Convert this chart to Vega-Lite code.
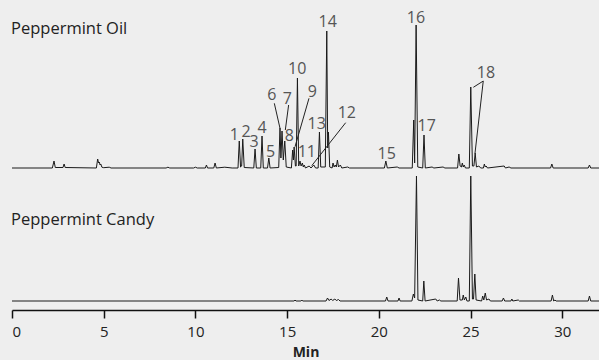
{
  "$schema": "https://vega.github.io/schema/vega-lite/v6.json",
  "width": 587,
  "height": 310,
  "autosize": {"type": "none"},
  "padding": {"left": 12, "right": 0, "top": 0, "bottom": 50},
  "background": "#eeeeee",
  "config": {"view": {"stroke": null}, "font": "Open Sans"},
  "datasets": {
    "oil": [
      {"t":0,"v":0},{"t":2.2,"v":0},{"t":2.29,"v":7},{"t":2.36,"v":0.5},{"t":2.78,"v":0.5},{"t":2.84,"v":4},{"t":2.9,"v":0.5},
      {"t":4.6,"v":0},{"t":4.67,"v":9},{"t":4.72,"v":5},{"t":4.76,"v":6},{"t":4.8,"v":3},{"t":4.84,"v":4},{"t":4.9,"v":0.8},{"t":5.0,"v":0.3},{"t":5.3,"v":0.8},{"t":5.4,"v":0},
      {"t":8.4,"v":0},{"t":8.5,"v":0.8},{"t":8.6,"v":0},{"t":9.9,"v":0},{"t":10.0,"v":0.8},{"t":10.1,"v":0},
      {"t":10.54,"v":0},{"t":10.6,"v":3},{"t":10.66,"v":0},{"t":11.0,"v":0},{"t":11.07,"v":5},{"t":11.14,"v":0},{"t":11.6,"v":0.8},{"t":12.0,"v":0},
      {"t":12.32,"v":0},{"t":12.39,"v":27},{"t":12.46,"v":1},{"t":12.52,"v":2},{"t":12.58,"v":29},{"t":12.66,"v":0.5},
      {"t":13.18,"v":0},{"t":13.25,"v":19},{"t":13.32,"v":0},{"t":13.56,"v":0},{"t":13.63,"v":32},{"t":13.7,"v":0},
      {"t":13.93,"v":0},{"t":14.0,"v":10},{"t":14.07,"v":0},{"t":14.54,"v":0.5},{"t":14.61,"v":40},{"t":14.66,"v":10},{"t":14.72,"v":37},{"t":14.79,"v":8},{"t":14.87,"v":27},{"t":14.95,"v":1},
      {"t":15.23,"v":0},{"t":15.3,"v":18},{"t":15.34,"v":8},{"t":15.38,"v":21},{"t":15.45,"v":2},{"t":15.49,"v":2},{"t":15.56,"v":90},{"t":15.63,"v":2},
      {"t":15.7,"v":7},{"t":15.76,"v":2},{"t":15.83,"v":5},{"t":15.88,"v":1},{"t":15.93,"v":3},{"t":16.0,"v":0},{"t":16.2,"v":2},{"t":16.3,"v":0},{"t":16.45,"v":3},{"t":16.55,"v":0},
      {"t":16.69,"v":0},{"t":16.76,"v":36},{"t":16.83,"v":1},{"t":17.08,"v":1},{"t":17.16,"v":137},{"t":17.21,"v":20},{"t":17.25,"v":36},{"t":17.32,"v":1},
      {"t":17.45,"v":0},{"t":17.5,"v":5},{"t":17.56,"v":1},{"t":17.62,"v":3},{"t":17.68,"v":1},{"t":17.74,"v":8},{"t":17.8,"v":1},{"t":17.9,"v":3},{"t":17.98,"v":0},
      {"t":18.3,"v":1},{"t":18.4,"v":0},{"t":20.3,"v":0},{"t":20.38,"v":7},{"t":20.46,"v":0},{"t":21.0,"v":1},{"t":21.1,"v":0},
      {"t":21.82,"v":0},{"t":21.9,"v":48},{"t":21.95,"v":5},{"t":22.03,"v":143},{"t":22.12,"v":1},{"t":22.39,"v":0},{"t":22.46,"v":33},{"t":22.53,"v":0},
      {"t":22.9,"v":1},{"t":23.0,"v":0},{"t":23.5,"v":1},{"t":23.6,"v":0},
      {"t":24.29,"v":0},{"t":24.36,"v":14},{"t":24.43,"v":2},{"t":24.5,"v":1},{"t":24.55,"v":5},{"t":24.6,"v":1},{"t":24.65,"v":3},{"t":24.72,"v":0},
      {"t":24.93,"v":0},{"t":25.01,"v":81},{"t":25.1,"v":2},{"t":25.18,"v":2},{"t":25.25,"v":15},{"t":25.32,"v":1},{"t":25.45,"v":2},{"t":25.55,"v":0},
      {"t":25.7,"v":0},{"t":25.75,"v":4},{"t":25.8,"v":1},{"t":25.85,"v":2},{"t":25.92,"v":0},{"t":26.83,"v":2},{"t":26.9,"v":0},{"t":27.1,"v":1},{"t":27.2,"v":0},
      {"t":29.36,"v":0},{"t":29.43,"v":4},{"t":29.5,"v":0},{"t":31.41,"v":0},{"t":31.48,"v":3},{"t":31.55,"v":0},{"t":32,"v":0}
    ],
    "candy": [
      {"t":0,"v":0},{"t":15.38,"v":0},{"t":15.43,"v":1},{"t":15.48,"v":0},{"t":15.75,"v":0},{"t":15.8,"v":1},{"t":15.85,"v":0},
      {"t":17.12,"v":0},{"t":17.2,"v":3},{"t":17.28,"v":0.5},{"t":17.4,"v":2},{"t":17.48,"v":0.5},{"t":17.6,"v":2},{"t":17.68,"v":0.5},{"t":17.8,"v":1.5},{"t":17.88,"v":0},
      {"t":20.36,"v":0},{"t":20.43,"v":4},{"t":20.5,"v":0},{"t":21.04,"v":0},{"t":21.1,"v":3},{"t":21.16,"v":0},
      {"t":21.8,"v":0},{"t":21.88,"v":7},{"t":21.95,"v":3},{"t":22.05,"v":125},{"t":22.13,"v":1},{"t":22.39,"v":0},{"t":22.45,"v":20},{"t":22.52,"v":0},
      {"t":23.1,"v":2},{"t":23.18,"v":0},{"t":23.3,"v":1},{"t":23.38,"v":0},
      {"t":24.27,"v":0},{"t":24.34,"v":23},{"t":24.42,"v":1},{"t":24.55,"v":1},{"t":24.6,"v":6},{"t":24.66,"v":1},{"t":24.74,"v":4},{"t":24.8,"v":0},
      {"t":24.93,"v":0},{"t":25.01,"v":125},{"t":25.1,"v":2},{"t":25.16,"v":2},{"t":25.23,"v":27},{"t":25.3,"v":1},
      {"t":25.6,"v":0},{"t":25.66,"v":5},{"t":25.72,"v":1},{"t":25.8,"v":8},{"t":25.87,"v":1},{"t":26.0,"v":2},{"t":26.08,"v":0},
      {"t":26.72,"v":0},{"t":26.79,"v":3},{"t":26.86,"v":0},{"t":27.2,"v":0},{"t":27.25,"v":2},{"t":27.3,"v":0},{"t":27.6,"v":1},{"t":27.66,"v":0},
      {"t":29.39,"v":0},{"t":29.46,"v":6},{"t":29.53,"v":0},{"t":29.6,"v":1},{"t":29.66,"v":0},{"t":31.41,"v":0},{"t":31.48,"v":5},{"t":31.55,"v":0},{"t":32,"v":0}
    ],
    "labels": [
      {"label":"1","t":12.12,"v":28},{"label":"2","t":12.76,"v":31.3},{"label":"3","t":13.19,"v":21.3},{"label":"4","t":13.63,"v":35.3},
      {"label":"5","t":14.1,"v":11.3},{"label":"6","t":14.16,"v":68},{"label":"7","t":15.01,"v":64},{"label":"8","t":15.12,"v":27.3},
      {"label":"9","t":16.37,"v":70.7},{"label":"10","t":15.55,"v":94},{"label":"11","t":16.07,"v":10.7},{"label":"12","t":18.25,"v":49.7},
      {"label":"13","t":16.61,"v":38.7},{"label":"14","t":17.21,"v":140.7},{"label":"15","t":20.43,"v":9},{"label":"16","t":22.02,"v":145.3},
      {"label":"17","t":22.61,"v":37},{"label":"18","t":25.84,"v":90.3}
    ],
    "leaders": [
      {"t":14.3,"v":64.7,"t2":14.61,"v2":39.7},
      {"t":15.08,"v":63,"t2":14.9,"v2":38},
      {"t":16.19,"v":69.7,"t2":15.43,"v2":21.3},
      {"t":18.19,"v":45.3,"t2":16.34,"v2":2.3},
      {"t":25.69,"v":87,"t2":25.15,"v2":80.7},
      {"t":25.69,"v":87,"t2":25.24,"v2":14.7}
    ],
    "names": [
      {"name":"Peppermint Oil","t":0,"v":134.5},
      {"name":"Peppermint Candy","t":0,"v":-57}
    ]
  },
  "resolve": {"scale": {"y": "independent"}},
  "layer": [
    {
      "data": {"name": "candy"},
      "mark": {"type": "line", "color": "#1a1a1a", "strokeWidth": 1, "interpolate": "linear"},
      "encoding": {
        "x": {"field": "t", "type": "quantitative", "scale": {"domain": [0, 32], "nice": false, "zero": false},
          "axis": {"values": [0,5,10,15,20,25,30], "title": "Min", "grid": false, "domainColor": "#111", "domainWidth": 1.5, "tickColor": "#111", "tickWidth": 1.5, "tickSize": 8,
            "labelFontSize": 15, "labelColor": "#222", "labelPadding": 6, "labelFont": "Open Sans", "titleFont": "Open Sans", "titleFontSize": 14, "titleFontWeight": "bold", "titleColor": "#222", "titlePadding": 6}},
        "y": {"field": "v", "type": "quantitative", "scale": {"domain": [-9, 301], "nice": false, "zero": false}, "axis": null},
        "order": {"field": "t"}
      }
    },
    {
      "data": {"name": "oil"},
      "mark": {"type": "line", "color": "#1a1a1a", "strokeWidth": 1, "interpolate": "linear"},
      "encoding": {
        "x": {"field": "t", "type": "quantitative"},
        "y": {"field": "v", "type": "quantitative", "scale": {"domain": [-142, 168], "nice": false, "zero": false}, "axis": null},
        "order": {"field": "t"}
      }
    },
    {
      "data": {"name": "leaders"},
      "mark": {"type": "rule", "color": "#222", "strokeWidth": 1},
      "encoding": {
        "x": {"field": "t", "type": "quantitative"},
        "x2": {"field": "t2"},
        "y": {"field": "v", "type": "quantitative", "scale": {"domain": [-142, 168], "nice": false, "zero": false}, "axis": null},
        "y2": {"field": "v2"}
      }
    },
    {
      "data": {"name": "labels"},
      "mark": {"type": "text", "fontSize": 16, "color": "#555", "baseline": "alphabetic", "align": "center", "font": "Open Sans"},
      "encoding": {
        "x": {"field": "t", "type": "quantitative"},
        "y": {"field": "v", "type": "quantitative", "scale": {"domain": [-142, 168], "nice": false, "zero": false}, "axis": null},
        "text": {"field": "label"}
      }
    },
    {
      "data": {"name": "names"},
      "mark": {"type": "text", "fontSize": 16.5, "color": "#222", "baseline": "alphabetic", "align": "left", "dx": -1, "font": "Open Sans"},
      "encoding": {
        "x": {"field": "t", "type": "quantitative"},
        "y": {"field": "v", "type": "quantitative", "scale": {"domain": [-142, 168], "nice": false, "zero": false}, "axis": null},
        "text": {"field": "name"}
      }
    }
  ]
}
